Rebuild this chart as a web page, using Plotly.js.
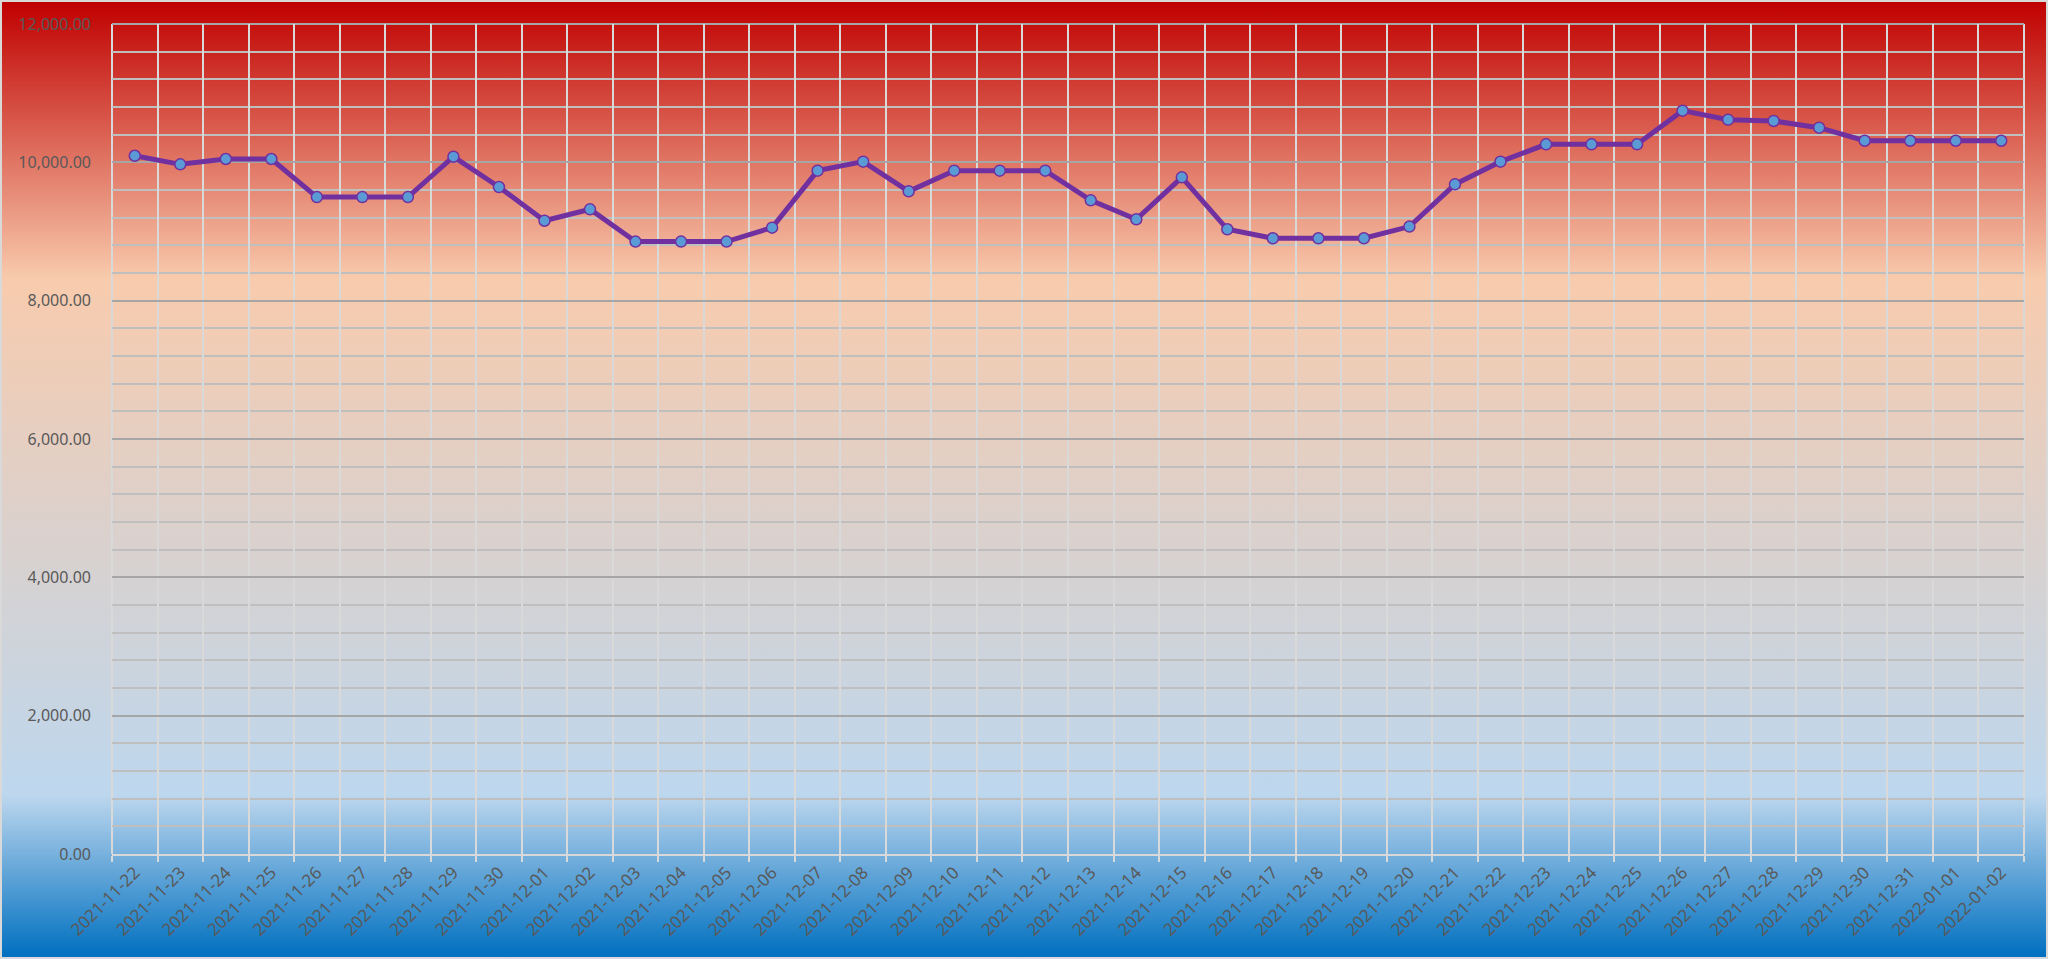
<!DOCTYPE html>
<html>
<head>
<meta charset="utf-8">
<script src="https://cdn.plot.ly/plotly-3.0.1.min.js"></script>
<style>
  html, body { margin: 0; padding: 0; }
  #wrap {
    width: 2048px; height: 959px; box-sizing: border-box;
    border: 2px solid #d9d9d9;
    background: linear-gradient(to bottom, #c00000 0%, #f8cbad 29%, #bdd7ee 83%, #0070c0 100%);
  }
  #chart { width: 2044px; height: 955px; }
</style>
</head>
<body>
<div id="wrap"><div id="chart"></div></div>
<script>
const dates = [
  "2021-11-22","2021-11-23","2021-11-24","2021-11-25","2021-11-26","2021-11-27","2021-11-28",
  "2021-11-29","2021-11-30","2021-12-01","2021-12-02","2021-12-03","2021-12-04","2021-12-05",
  "2021-12-06","2021-12-07","2021-12-08","2021-12-09","2021-12-10","2021-12-11","2021-12-12",
  "2021-12-13","2021-12-14","2021-12-15","2021-12-16","2021-12-17","2021-12-18","2021-12-19",
  "2021-12-20","2021-12-21","2021-12-22","2021-12-23","2021-12-24","2021-12-25","2021-12-26",
  "2021-12-27","2021-12-28","2021-12-29","2021-12-30","2021-12-31","2022-01-01","2022-01-02"
];
const values = [
  10095, 9971, 10048, 10048, 9498, 9498, 9498,
  10081, 9643, 9156, 9321, 8854, 8854, 8854,
  9056, 9880, 10010, 9581, 9880, 9880, 9880,
  9451, 9176, 9783, 9032, 8902, 8902, 8902,
  9071, 9682, 10010, 10260, 10260, 10260, 10747,
  10617, 10598, 10501, 10312, 10312, 10312, 10312
];

const trace = {
  type: 'scatter',
  mode: 'lines+markers',
  x: dates,
  y: values,
  line: { color: '#7030a0', width: 5 },
  marker: { color: '#5b9bd5', size: 11, line: { color: '#7030a0', width: 1.5 } },
  hoverinfo: 'x+y'
};

const layout = {
  width: 2044, height: 955,
  paper_bgcolor: 'rgba(0,0,0,0)',
  plot_bgcolor: 'rgba(0,0,0,0)',
  margin: { l: 110, r: 22, t: 22, b: 103 },
  showlegend: false,
  font: { family: 'Noto Sans, sans-serif', size: 16, color: '#595959' },
  xaxis: {
    type: 'category',
    range: [-0.5, dates.length - 0.5],
    tickson: 'boundaries',
    ticks: 'outside', ticklen: 6, tickwidth: 2, tickcolor: '#d9d9d9',
    showgrid: true, gridcolor: '#d9d9d9', gridwidth: 2,
    showline: true, linecolor: '#d9d9d9', linewidth: 2,
    tickangle: -45,
    tickfont: { family: 'Noto Sans, sans-serif', size: 17, color: '#595959' },
    zeroline: false
  },
  yaxis: {
    range: [0, 12000],
    dtick: 2000, tick0: 0,
    tickformat: ',.2f',
    ticks: '', ticklabelstandoff: 20,
    showgrid: true, gridcolor: '#a6a6a6', gridwidth: 2,
    minor: { dtick: 400, tick0: 0, showgrid: true, gridcolor: '#bfbfbf', gridwidth: 2 },
    zeroline: false, showline: false,
    tickfont: { family: 'Noto Sans, sans-serif', size: 16, color: '#595959' }
  },
  shapes: [
    { type: 'line', xref: 'paper', yref: 'paper', x0: 0, x1: 0, y0: 0, y1: 1, layer: 'below',
      line: { color: '#d9d9d9', width: 2 } },
    { type: 'line', xref: 'paper', yref: 'paper', x0: 1, x1: 1, y0: 0, y1: 1, layer: 'below',
      line: { color: '#d9d9d9', width: 2 } },
    { type: 'line', xref: 'paper', yref: 'paper', x0: 0, x1: 1, y0: 1, y1: 1, layer: 'below',
      line: { color: '#a6a6a6', width: 2 } }
  ]
};

Plotly.newPlot('chart', [trace], layout, { displayModeBar: false });
</script>
</body>
</html>
